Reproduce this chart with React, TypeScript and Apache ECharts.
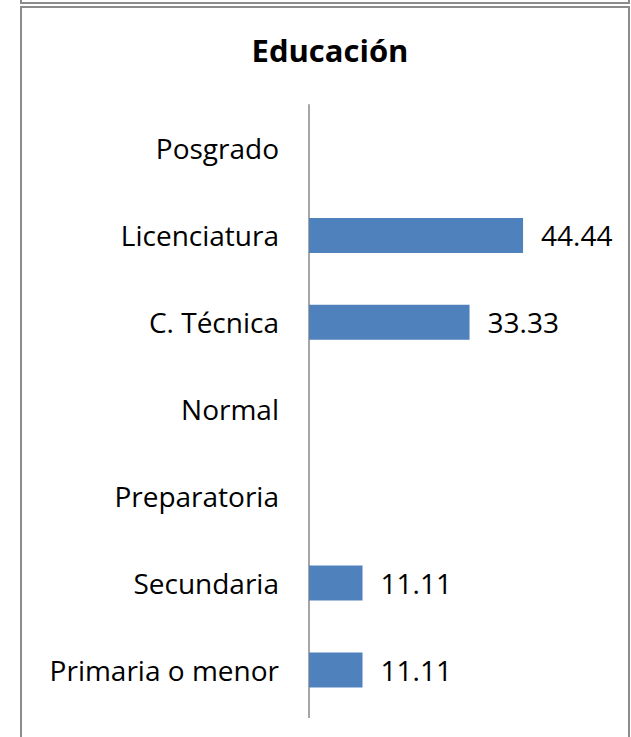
import React, { useEffect, useRef } from "react";
import * as echarts from "echarts";

const categories = [
  "Primaria o menor",
  "Secundaria",
  "Preparatoria",
  "Normal",
  "C. Técnica",
  "Licenciatura",
  "Posgrado",
];
const values: (number | null)[] = [11.11, 11.11, null, null, 33.33, 44.44, null];
const title = "Educación";

export default function App() {
  const ref = useRef<HTMLDivElement>(null);
  useEffect(() => {
    if (!ref.current) return;
    const chart = echarts.init(ref.current, null, { renderer: "svg" });
    const font = "Open Sans";
    chart.setOption({
      animation: false,
      backgroundColor: "#ffffff",
      title: {
        text: title,
        left: 325,
        textAlign: "center",
        top: 29,
        textStyle: { fontFamily: font, fontWeight: "bold", fontSize: 31, color: "#000" },
      },
      grid: { left: 309, top: 105, width: 289, bottom: 23.5, containLabel: false },
      xAxis: {
        type: "value",
        min: 0,
        max: 60,
        show: false,
      },
      yAxis: {
        type: "category",
        data: categories,
        axisLine: { show: true, lineStyle: { color: "#a6a6a6", width: 2 } },
        axisTick: { show: false },
        axisLabel: { fontFamily: font, fontSize: 28, color: "#000", margin: 30 },
        splitLine: { show: false },
      },
      series: [
        {
          type: "bar",
          data: values,
          barWidth: 35,
          itemStyle: { color: "#4f81bd" },
          label: {
            show: true,
            position: "right",
            distance: 18,
            fontFamily: font,
            fontSize: 28,
            color: "#000",
            formatter: (p: any) => (p.value == null ? "" : p.value.toFixed(2)),
          },
        },
      ],
      graphic: [
        {
          type: "line",
          shape: { x1: 309, y1: 713, x2: 309, y2: 718 },
          style: { stroke: "#a6a6a6", lineWidth: 2 },
        },
        {
          type: "rect",
          shape: { x: 21, y: -20, width: 608, height: 23 },
          style: { fill: "none", stroke: "#8c8c8c", lineWidth: 2 },
        },
        {
          type: "rect",
          shape: { x: 21, y: 7, width: 608, height: 760 },
          style: { fill: "none", stroke: "#8c8c8c", lineWidth: 2 },
        },
      ],
    });
    return () => chart.dispose();
  }, []);
  return (
    <div
      ref={ref}
      style={{ position: "fixed", left: 0, top: 0, width: 631, height: 737 }}
    />
  );
}
